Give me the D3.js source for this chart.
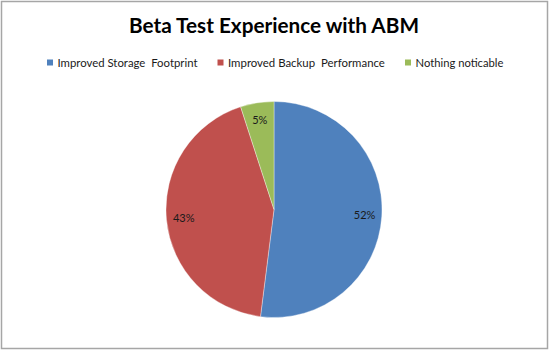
<!DOCTYPE html>
<html><head><meta charset="utf-8">
<script src="https://cdn.jsdelivr.net/npm/d3@7"></script>
<style>body{margin:0;background:#fff}svg{display:block}</style>
</head><body>
<svg id="chart" width="549" height="351"></svg>
<script>
const categories = ["Improved Storage  Footprint", "Improved Backup  Performance", "Nothing noticable"];
const values = [52, 43, 5];
const colors = ["#4F81BD", "#C0504D", "#9BBB59"];
const title = "Beta Test Experience with ABM";

const svg = d3.select("#chart");
const W = 549, H = 351;
svg.append("rect").attr("x", 1.5).attr("y", 1.5).attr("width", W - 3).attr("height", H - 4)
  .attr("fill", "#fff").attr("stroke", "#a6a6a6").attr("stroke-width", 1.5);

function fit(sel, target) {
  const w = sel.node().getComputedTextLength();
  const fs = parseFloat(sel.attr("font-size"));
  sel.attr("font-size", (fs * target / w).toFixed(2));
}

const font = "Lato, 'Open Sans', sans-serif";
const t = svg.append("text").attr("x", 274).attr("y", 32.5).attr("text-anchor", "middle")
  .attr("font-family", font).attr("font-weight", "bold").attr("font-size", 20)
  .attr("fill", "#000").text(title);
fit(t, 290);

// Legend
const legendX = [47, 217.5, 405];
const legendW = [140, 157, 88];
const lg = svg.append("g");
categories.forEach((c, i) => {
  lg.append("rect").attr("x", legendX[i]).attr("y", 59.5).attr("width", 6).attr("height", 6).attr("fill", colors[i]);
  const tx = lg.append("text").attr("x", legendX[i] + 10.5).attr("y", 66.5)
    .attr("font-family", font).attr("font-size", 11.5).attr("fill", "#1a1a1a")
    .style("white-space", "pre").attr("xml:space", "preserve").text(c);
  fit(tx, legendW[i]);
});

// Pie
const cx = 274, cy = 209.5, R = 108;
const total = d3.sum(values);
const pie = d3.pie().sort(null).value(d => d)(values);
const arc = d3.arc().innerRadius(0).outerRadius(R);
const labelArc = d3.arc().innerRadius(R * 0.84).outerRadius(R * 0.84);
const g = svg.append("g").attr("transform", `translate(${cx},${cy})`);
g.selectAll("path").data(pie).join("path")
  .attr("d", arc).attr("fill", (d, i) => colors[i])
  .attr("stroke", "#fff").attr("stroke-width", 0.6).attr("stroke-opacity", 0.6);
g.selectAll("text").data(pie).join("text")
  .attr("transform", d => { const [x, y] = labelArc.centroid(d); return `translate(${x},${y})`; })
  .attr("text-anchor", "middle").attr("dy", "0.35em")
  .attr("font-family", font).attr("font-size", 11).attr("fill", "#1a1a1a")
  .text(d => Math.round(d.value / total * 100) + "%");
</script>
</body></html>
